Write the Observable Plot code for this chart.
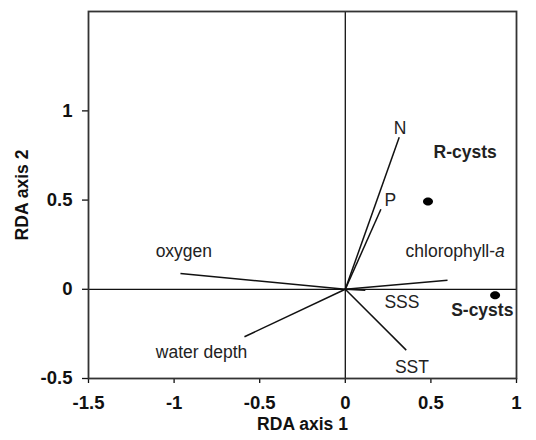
<!DOCTYPE html>
<html>
<head>
<meta charset="utf-8">
<script src="https://cdn.jsdelivr.net/npm/d3@7"></script>
<script src="https://cdn.jsdelivr.net/npm/@observablehq/plot@0.6"></script>
<style>
  html, body { margin: 0; padding: 0; background: #fff; }
</style>
</head>
<body>
<div id="chart"></div>
<script>
// Environmental variable vectors (RDA axis 1, RDA axis 2)
const variables = ["N", "P", "oxygen", "water depth", "chlorophyll-a", "SSS", "SST"];
const vecX = [0.315, 0.208, -0.963, -0.589, 0.597, 0.117, 0.356];
const vecY = [0.852, 0.449, 0.088, -0.266, 0.050, -0.006, -0.341];
// label positions of vectors
const labelX = [0.32, 0.263, -0.943, -0.84, 0.642, 0.331, 0.389];
const labelY = [0.90, 0.496, 0.211, -0.356, 0.215, -0.075, -0.437];

// Species (cyst types)
const species = ["R-cysts", "S-cysts"];
const spX = [0.483, 0.875];
const spY = [0.492, -0.034];
const spLabelX = [0.70, 0.80];
const spLabelY = [0.77, -0.118];

const xTicks = [-1.5, -1, -0.5, 0, 0.5, 1];
const yTicks = [-0.5, 0, 0.5, 1];

const vectors = variables.map((name, i) => ({name, x: vecX[i], y: vecY[i], lx: labelX[i], ly: labelY[i]}));
const spData = species.map((name, i) => ({name, x: spX[i], y: spY[i], lx: spLabelX[i], ly: spLabelY[i]}));

const ellipse = {
  draw(context, size) {
    const rx = 5, ry = 4, k = 0.5523;
    context.moveTo(rx, 0);
    context.bezierCurveTo(rx, ry * k, rx * k, ry, 0, ry);
    context.bezierCurveTo(-rx * k, ry, -rx, ry * k, -rx, 0);
    context.bezierCurveTo(-rx, -ry * k, -rx * k, -ry, 0, -ry);
    context.bezierCurveTo(rx * k, -ry, rx, -ry * k, rx, 0);
    context.closePath();
  }
};

const font = "'Liberation Sans', Arial, Helvetica, sans-serif";
const fmt = d => String(d);

const chart = Plot.plot({
  width: 536,
  height: 440,
  marginLeft: 88,
  marginRight: 20,
  marginTop: 11,
  marginBottom: 62,
  style: {fontFamily: font, fontSize: "17.5px", color: "#111", background: "#fff"},
  x: {domain: [-1.5, 1]},
  y: {domain: [-0.5, 1.557]},
  marks: [
    Plot.axisX({ticks: xTicks, tickFormat: fmt, tickSize: 5, tickPadding: 12, fontWeight: "bold",
      label: "RDA axis 1", labelAnchor: "center", labelArrow: "none", labelOffset: 51, strokeWidth: 1.3}),
    Plot.axisY({ticks: yTicks, tickFormat: fmt, tickSize: 6, tickPadding: 10, fontWeight: "bold",
      label: "RDA axis 2", labelAnchor: "center", labelArrow: "none", labelOffset: 73, strokeWidth: 1.3}),
    Plot.ruleX([0], {stroke: "#111", strokeWidth: 1.3}),
    Plot.ruleY([0], {stroke: "#111", strokeWidth: 1.3}),
    Plot.link(vectors, {x1: () => 0, y1: () => 0, x2: "x", y2: "y", stroke: "#111", strokeWidth: 1.5}),
    Plot.text(vectors, {x: "lx", y: "ly", text: "name", fill: "#222", fontSize: 17.5}),
    Plot.dot(spData, {x: "x", y: "y", symbol: ellipse, fill: "#000", stroke: "none"}),
    Plot.text(spData, {x: "lx", y: "ly", text: "name", fill: "#222", fontSize: 17.5, fontWeight: "bold"}),
    Plot.frame({stroke: "#333", strokeWidth: 1.8})
  ]
});

d3.select(chart).selectAll("g[aria-label$='tick label'] text")
  .style("font-size", "18.5px").style("font-weight", "bold");
d3.select(chart).selectAll("g[aria-label$='axis label'] text")
  .style("font-size", "17.5px").style("font-weight", "bold");

d3.select(chart).selectAll("text").each(function() {
  if (this.textContent === "chlorophyll-a") {
    this.innerHTML = 'chlorophyll-<tspan font-style="italic">a</tspan>';
  }
});

document.getElementById("chart").appendChild(chart);
</script>
</body>
</html>
